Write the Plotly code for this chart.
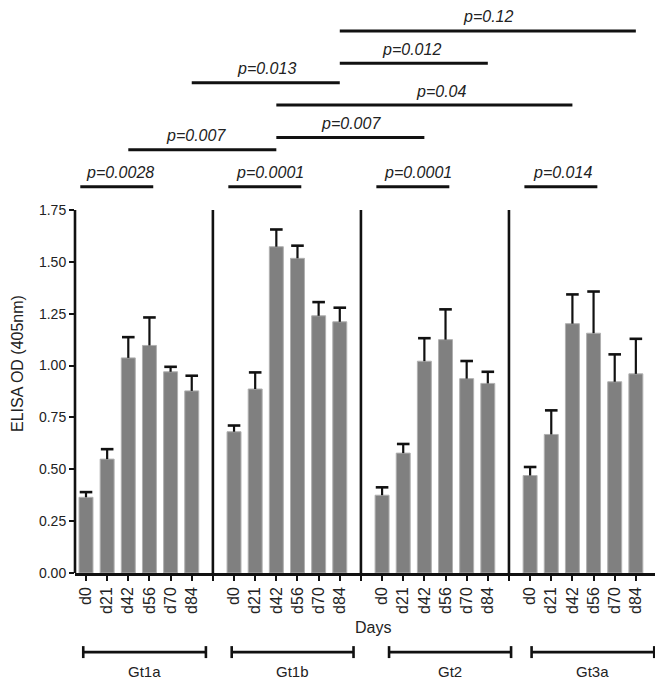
import plotly.graph_objects as go

# ---------------- data ----------------
groups = ["Gt1a", "Gt1b", "Gt2", "Gt3a"]
days = ["d0", "d21", "d42", "d56", "d70", "d84"]

gt1a_mean = [0.365, 0.549, 1.037, 1.097, 0.970, 0.878]
gt1a_sem = [0.025, 0.048, 0.100, 0.135, 0.024, 0.073]
gt1b_mean = [0.681, 0.887, 1.573, 1.517, 1.240, 1.211]
gt1b_sem = [0.030, 0.080, 0.083, 0.061, 0.066, 0.068]
gt2_mean = [0.375, 0.578, 1.021, 1.125, 0.937, 0.914]
gt2_sem = [0.038, 0.044, 0.111, 0.146, 0.085, 0.056]
gt3a_mean = [0.470, 0.668, 1.202, 1.156, 0.922, 0.960]
gt3a_sem = [0.041, 0.116, 0.141, 0.201, 0.132, 0.169]

y_tick_vals = [0.0, 0.25, 0.5, 0.75, 1.0, 1.25, 1.5, 1.75]
y_tick_text = ["0.00", "0.25", "0.50", "0.75", "1.00", "1.25", "1.50", "1.75"]

cmp_labels = ["p=0.0028", "p=0.0001", "p=0.0001", "p=0.014", "p=0.007",
              "p=0.007", "p=0.04", "p=0.013", "p=0.012", "p=0.12"]
cmp_start = [("Gt1a", "d0"), ("Gt1b", "d0"), ("Gt2", "d0"), ("Gt3a", "d0"),
             ("Gt1a", "d42"), ("Gt1b", "d42"), ("Gt1b", "d42"),
             ("Gt1a", "d84"), ("Gt1b", "d84"), ("Gt1b", "d84")]
cmp_end = [("Gt1a", "d56"), ("Gt1b", "d56"), ("Gt2", "d56"), ("Gt3a", "d56"),
           ("Gt1b", "d42"), ("Gt2", "d42"), ("Gt3a", "d42"),
           ("Gt1b", "d84"), ("Gt2", "d84"), ("Gt3a", "d84")]

means = {"Gt1a": gt1a_mean, "Gt1b": gt1b_mean, "Gt2": gt2_mean, "Gt3a": gt3a_mean}
sems = {"Gt1a": gt1a_sem, "Gt1b": gt1b_sem, "Gt2": gt2_sem, "Gt3a": gt3a_sem}

# ---------------- layout helpers (positions / styles) ----------------
STRIDE = len(days) + 1          # one empty slot between groups
cmp_level = [1.862, 1.862, 1.862, 1.862, 2.041, 2.100, 2.256, 2.363, 2.457, 2.613]
cmp_text_shift = [3, 5, 5, 2, -6, 1, 17, 1, -2, 0]
group_bracket = [(-0.13, 5.67), (6.89, 12.65), (14.33, 20.10), (21.07, 26.87)]
X_RANGE = [-0.52, 27.52]
Y_RANGE = [0, 2.7238]
FONT = "Liberation Sans, Arial, sans-serif"
BAR_COLOR = "#808080"
INK = "#111111"
TXT = "#222222"


def slot(g, d):
    return STRIDE * groups.index(g) + days.index(d)


bx, by = [], []
ex, ey, cx, cy = [], [], [], []
for g in groups:
    for d, m, e in zip(days, means[g], sems[g]):
        s = slot(g, d)
        bx.append(s)
        by.append(m)
        ex += [s, s, None]
        ey += [m, m + e, None]
        cx.append(s)
        cy.append(m + e)

fig = go.Figure()
fig.add_trace(go.Bar(x=bx, y=by, width=0.66, marker=dict(color=BAR_COLOR,
                     line=dict(color="#b0b0b0", width=1)), hoverinfo="skip"))
fig.add_trace(go.Scatter(x=ex, y=ey, mode="lines", line=dict(color=INK, width=2.2),
                         hoverinfo="skip"))
fig.add_trace(go.Scatter(x=cx, y=cy, mode="markers",
                         marker=dict(symbol="line-ew", size=9,
                                     line=dict(color=INK, width=2.6)),
                         hoverinfo="skip"))

# x ticks: bar categories, plus ticks under dividers and one at the end
tickvals, ticktext = [], []
for gi, g in enumerate(groups):
    for d in days:
        tickvals.append(slot(g, d))
        ticktext.append(d)
    tickvals.append(STRIDE * gi + len(days))
    ticktext.append("")

shapes = []
# y-axis line (only up to 1.75)
shapes.append(dict(type="line", xref="paper", yref="y", x0=0, x1=0, y0=0, y1=1.75,
                   line=dict(color=INK, width=2.6)))
# group dividers
for gi in range(len(groups) - 1):
    xs = STRIDE * gi + len(days)
    shapes.append(dict(type="line", xref="x", yref="y", x0=xs, x1=xs, y0=0, y1=1.75,
                       line=dict(color=INK, width=2.6)))

annotations = []
# comparison bars
for lab, s0, s1, lev, sh in zip(cmp_labels, cmp_start, cmp_end, cmp_level, cmp_text_shift):
    x0 = slot(*s0)
    x1 = slot(*s1)
    if s0[0] == s1[0]:
        x0 -= 0.27
        x1 += 0.18
    shapes.append(dict(type="line", xref="x", yref="y", x0=x0, x1=x1, y0=lev, y1=lev,
                       line=dict(color=INK, width=3)))
    annotations.append(dict(x=(x0 + x1) / 2, y=lev, xref="x", yref="y", text=lab,
                            showarrow=False, yanchor="middle", yshift=14, xshift=sh,
                            font=dict(family=FONT, size=16, color=TXT, style="italic")))

# group brackets below the axis
BR_Y = -0.140
CAP = 0.0106
for g, (a, b) in zip(groups, group_bracket):
    shapes.append(dict(type="line", xref="x", yref="paper", x0=a, x1=b, y0=BR_Y, y1=BR_Y,
                       line=dict(color=INK, width=2.6)))
    for xx in (a, b):
        shapes.append(dict(type="line", xref="x", yref="paper", x0=xx, x1=xx,
                           y0=BR_Y - CAP, y1=BR_Y + CAP, line=dict(color=INK, width=2.6)))
    annotations.append(dict(x=(a + b) / 2, y=-0.175, xref="x", yref="paper", text=g,
                            showarrow=False, yanchor="middle",
                            font=dict(family=FONT, size=15, color=TXT)))

annotations.append(dict(x=0.502, y=-0.097, xref="paper", yref="paper", text="Days",
                        showarrow=False, yanchor="middle",
                        font=dict(family=FONT, size=16, color=TXT)))
annotations.append(dict(x=-0.096, y=0.37, xref="paper", yref="paper",
                        text="ELISA OD (405nm)", textangle=-90, showarrow=False,
                        xanchor="center", yanchor="middle",
                        font=dict(family=FONT, size=16, color=TXT)))

fig.update_layout(
    width=663, height=681,
    margin=dict(l=67, r=3, t=0, b=116, pad=0),
    paper_bgcolor="white", plot_bgcolor="white",
    showlegend=False,
    font=dict(family=FONT, color=TXT),
    shapes=shapes, annotations=annotations,
    xaxis=dict(range=X_RANGE, tickmode="array", tickvals=tickvals, ticktext=ticktext,
               tickangle=-90, ticks="outside", ticklen=5, tickwidth=2, tickcolor=INK,
               showline=True, linecolor=INK, linewidth=2.6, showgrid=False,
               zeroline=False, tickfont=dict(family=FONT, size=16, color=TXT)),
    yaxis=dict(range=Y_RANGE, tickmode="array", tickvals=y_tick_vals, ticktext=y_tick_text,
               ticks="outside", ticklen=5, tickwidth=2, tickcolor=INK,
               showline=False, showgrid=False, zeroline=False,
               tickfont=dict(family=FONT, size=14, color=TXT)),
    bargap=0.34,
)

fig.write_html("out.html")
